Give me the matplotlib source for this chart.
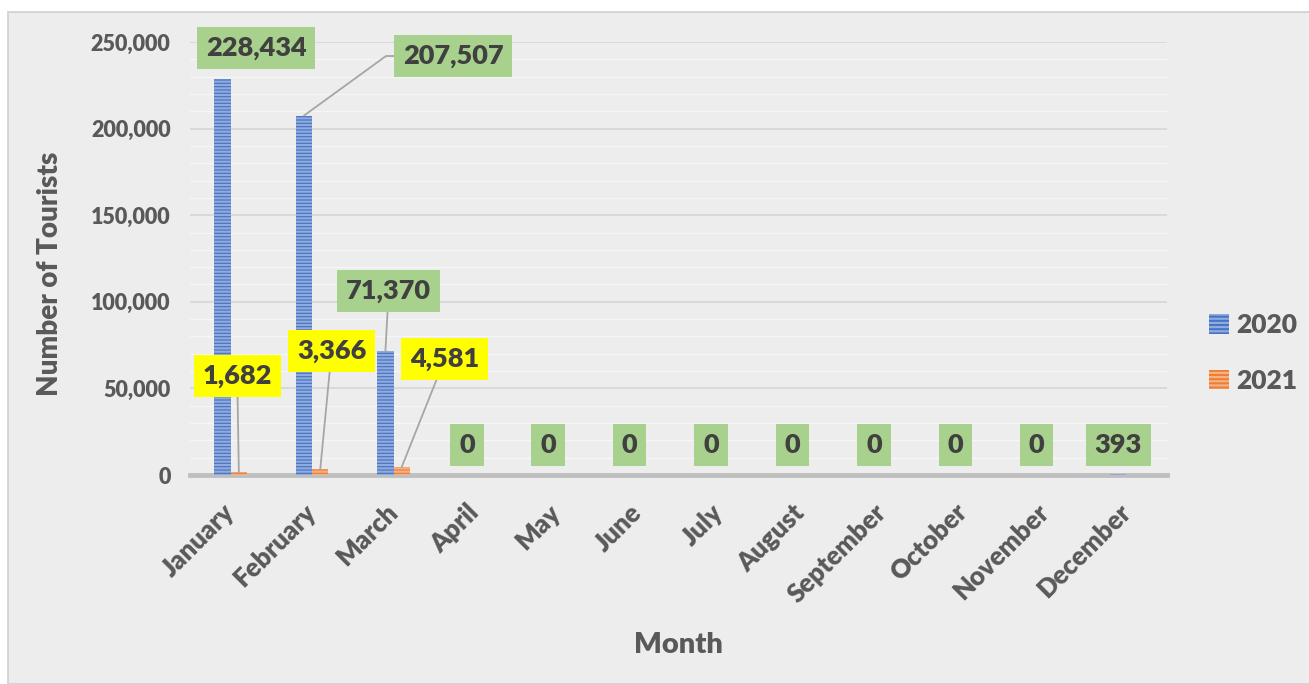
import numpy as np
import matplotlib
matplotlib.use('Agg')
import matplotlib.pyplot as plt
from matplotlib.patches import Rectangle, Patch
from matplotlib.ticker import MultipleLocator, FuncFormatter

# Data
###############################################################################
months = ['January', 'February', 'March', 'April', 'May', 'June', 'July',
          'August', 'September', 'October', 'November', 'December']
tourists_2020 = [228434, 207507, 71370, 0, 0, 0, 0, 0, 0, 0, 0, 393]
tourists_2021 = [1682, 3366, 4581]

# label box positions (data coords) for the labelled bars
label_pos_2020 = [(0.31, 246500), (2.73, 241900), (1.94, 106200)]
label_pos_2021 = [(0.08, 57200), (1.24, 71600), (2.63, 67000)]
zero_label_y = 17300

# Style
###############################################################################
plt.rcParams['font.family'] = ['Lato', 'DejaVu Sans']
plt.rcParams['hatch.linewidth'] = 1.6
blue, blue_hatch = '#4472C4', '#8FAADC'
orange, orange_hatch = '#ED7D31', '#F4B183'
bg = '#EDEDED'
txt_dark = '#404040'
txt_tick = '#595959'
wt = 'heavy'

fig = plt.figure(figsize=(13.09, 6.84), dpi=100, facecolor='white')
fig.patches.append(Rectangle((8 / 1309, 0), 1.0, 1 - 12 / 684,
                             transform=fig.transFigure, facecolor=bg,
                             edgecolor='#D0D0D0', linewidth=1.2, zorder=-1))
ax = fig.add_axes([190 / 1309, 1 - 475 / 684, 977 / 1309, 433 / 684])
ax.set_facecolor(bg)

x = np.arange(len(months))
w = 0.2
ax.bar(x - w / 2, tourists_2020, width=w, color=blue, edgecolor=blue_hatch,
       hatch='-----', linewidth=0, zorder=3)
x21 = x[:len(tourists_2021)]
ax.bar(x21 + w / 2, tourists_2021, width=w, color=orange,
       edgecolor=orange_hatch, hatch='-----', linewidth=0, zorder=3)

ax.set_xlim(-0.5, len(months) - 0.5)
ax.set_ylim(0, 250000)
ax.yaxis.set_major_locator(MultipleLocator(50000))
ax.yaxis.set_minor_locator(MultipleLocator(10000))
ax.yaxis.set_major_formatter(FuncFormatter(lambda v, p: f'{int(v):,}'))
ax.grid(axis='y', which='major', color='#D4D4D4', linewidth=1.1, zorder=0)
ax.grid(axis='y', which='minor', color='#F6F6F6', linewidth=1.0, zorder=0)
ax.tick_params(axis='both', which='both', length=0)
ax.tick_params(axis='y', labelsize=15.5, labelcolor=txt_tick, pad=14)
ax.set_xticks(x)
ax.set_xticklabels(months, rotation=45, ha='right', va='center',
                   rotation_mode='anchor', fontsize=18.5, fontweight=wt,
                   color=txt_tick)
ax.tick_params(axis='x', pad=24)
for lbl in ax.get_yticklabels():
    lbl.set_fontweight(wt)
for s in ['top', 'right', 'left']:
    ax.spines[s].set_visible(False)
ax.spines['bottom'].set_color('#BFBFBF')
ax.spines['bottom'].set_linewidth(3.5)
ax.spines['bottom'].set_zorder(2)

ax.set_ylabel('Number of Tourists', fontsize=20, fontweight=wt,
              color=txt_tick, labelpad=20)
ax.yaxis.label.set_y(0.464)
ax.set_xlabel('Month', fontsize=21, fontweight=wt, color=txt_tick,
              labelpad=18)

# Data labels
###############################################################################
lead = dict(arrowstyle='-', color='#A6A6A6', linewidth=1.3, shrinkA=0,
            shrinkB=0)
green_box = dict(boxstyle='square,pad=0.33', facecolor='#A9D18E',
                 edgecolor='none')
yellow_box = dict(boxstyle='square,pad=0.33', facecolor='#FFFF00',
                  edgecolor='none')
lbl_size = 19.5

for i, (lx, ly) in enumerate(label_pos_2020):
    props = dict(lead)
    if i == 1:
        props['connectionstyle'] = 'angle,angleA=0,angleB=36,rad=0'
    ax.annotate(f'{tourists_2020[i]:,}', xy=(x[i] - w / 2, tourists_2020[i]),
                xytext=(lx, ly), ha='center', va='center', fontsize=lbl_size,
                fontweight=wt, color=txt_dark, bbox=green_box,
                arrowprops=props if i > 0 else None, zorder=5,
                annotation_clip=False)

for i, (lx, ly) in enumerate(label_pos_2021):
    ax.annotate(f'{tourists_2021[i]:,}', xy=(x[i] + w / 2, tourists_2021[i]),
                xytext=(lx, ly), ha='center', va='center', fontsize=lbl_size,
                fontweight=wt, color=txt_dark, bbox=yellow_box,
                arrowprops=lead, zorder=5)

for i in range(3, len(months)):
    ax.text(x[i] - w / 2, zero_label_y, f'{tourists_2020[i]:,}', ha='center',
            va='center', fontsize=lbl_size, fontweight=wt, color=txt_dark,
            bbox=green_box, zorder=5)

# Legend
###############################################################################
handles = [Patch(facecolor=blue, edgecolor=blue_hatch, hatch='----',
                 linewidth=0, label='2020'),
           Patch(facecolor=orange, edgecolor=orange_hatch, hatch='----',
                 linewidth=0, label='2021')]
leg = fig.legend(handles=handles, loc='center left',
                 bbox_to_anchor=(1209 / 1309, 1 - 353 / 684), frameon=False,
                 borderpad=0, borderaxespad=0,
                 handlelength=0.75, handleheight=0.75, handletextpad=0.3,
                 labelspacing=1.2, prop=dict(size=19, weight=wt))
for t in leg.get_texts():
    t.set_color(txt_tick)

fig.savefig('out.png', dpi=100, facecolor=fig.get_facecolor())
